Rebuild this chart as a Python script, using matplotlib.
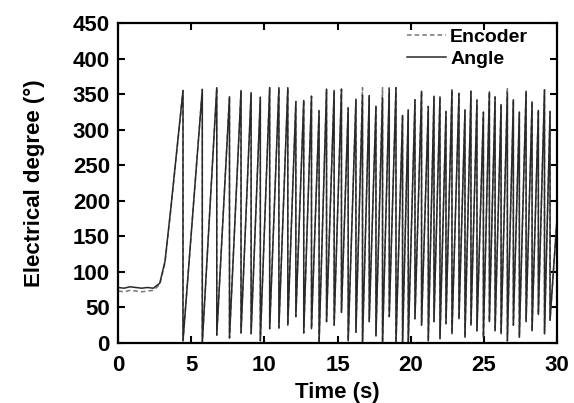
import matplotlib
matplotlib.use("Agg")
import matplotlib.pyplot as plt

# start-up segment (before the first wrap)
start_t = [0.0, 0.4, 0.8, 1.2, 1.6, 2.0, 2.4, 2.84, 3.2, 3.6, 4.0]
start_angle = [78, 77, 79, 78, 77, 78, 77, 84, 115, 190, 270]
start_encoder = [73, 72, 74, 73, 72, 73, 74, 82, 113, 188, 268]

# wrap times (s) of the sawtooth, value just before wrap and just after
wrap_t = [4.43, 5.75, 6.74, 7.61, 8.40, 9.09, 9.72, 10.36, 10.99, 11.60,
          12.15, 12.69, 13.22, 13.74, 14.25, 14.77, 15.27, 15.73, 16.26, 16.71,
          17.17, 17.63, 18.08, 18.54, 19.00, 19.45, 19.84, 20.30, 20.75, 21.21,
          21.60, 22.01, 22.42, 22.83, 23.31, 23.72, 24.13, 24.54, 24.98, 25.39,
          25.78, 26.19, 26.62, 27.03, 27.44, 27.90, 28.31, 28.74, 29.16, 29.54]
angle_peak = [355, 356, 359, 346, 355, 352, 345, 359, 359, 359,
              339, 341, 347, 326, 357, 355, 357, 330, 342, 348,
              348, 333, 345, 357, 359, 320, 327, 342, 354, 332,
              347, 346, 325, 356, 351, 327, 354, 341, 324, 353,
              346, 335, 352, 342, 324, 354, 339, 327, 356, 325]
encoder_peak = [355, 357, 359, 347, 355, 352, 346, 359, 359, 359,
                340, 342, 347, 327, 357, 355, 357, 331, 343, 359,
                348, 334, 359, 359, 359, 321, 328, 342, 354, 333,
                347, 346, 326, 356, 351, 328, 354, 342, 325, 353,
                346, 336, 359, 342, 325, 354, 340, 328, 356, 326]
trough = [3, 0, 11, 7, 14, 13, 3, 20, 21, 25,
          37, 14, 20, 0, 30, 25, 43, 3, 15, 0,
          30, 10, 0, 37, 0, 0, 0, 34, 25, 3,
          30, 6, 27, 13, 34, 8, 25, 17, 8, 30,
          17, 13, 3, 25, 8, 30, 17, 40, 13, 32]
end_t = 30.0
end_value = 170


def build_series(t0, v0, peaks):
    ts, vs = list(t0), list(v0)
    for t, p, lo in zip(wrap_t, peaks, trough):
        ts += [t, t]
        vs += [p, lo]
    ts.append(end_t)
    vs.append(end_value)
    return ts, vs


plt.rcParams["font.family"] = ["Liberation Sans", "DejaVu Sans"]
plt.rcParams["font.weight"] = "bold"

fig = plt.figure(figsize=(5.74, 4.03), dpi=100)
ax = fig.add_axes([0.206, 0.149, 0.764, 0.794])

t_e, v_e = build_series(start_t, start_encoder, encoder_peak)
t_a, v_a = build_series(start_t, start_angle, angle_peak)
ax.plot(t_e, v_e, color="#777777", lw=1.1, ls=(0, (3, 2)), label="Encoder")
ax.plot(t_a, v_a, color="#2a2a2a", lw=1.1, label="Angle")

ax.set_xlim(0, 30)
ax.set_ylim(0, 450)
ax.set_xticks(range(0, 31, 5))
ax.set_yticks(range(0, 451, 50))
ax.tick_params(direction="in", length=5, width=1.5, labelsize=16,
               top=True, right=True)
ax.tick_params(axis="x", pad=9)
ax.tick_params(axis="y", pad=6)
for s in ax.spines.values():
    s.set_linewidth(1.6)

ax.set_xlabel("Time (s)", fontsize=16, fontweight="bold", labelpad=4)
ax.set_ylabel("Electrical degree (°)", fontsize=16, fontweight="bold", labelpad=20)

leg = ax.legend(loc="upper left", bbox_to_anchor=(0.655, 0.99), frameon=False,
                fontsize=14, handlelength=2.0, borderaxespad=0, borderpad=0.1,
                labelspacing=0.25, handletextpad=0.2)
for txt in leg.get_texts():
    txt.set_fontweight("bold")

fig.savefig("out.png", dpi=100)
